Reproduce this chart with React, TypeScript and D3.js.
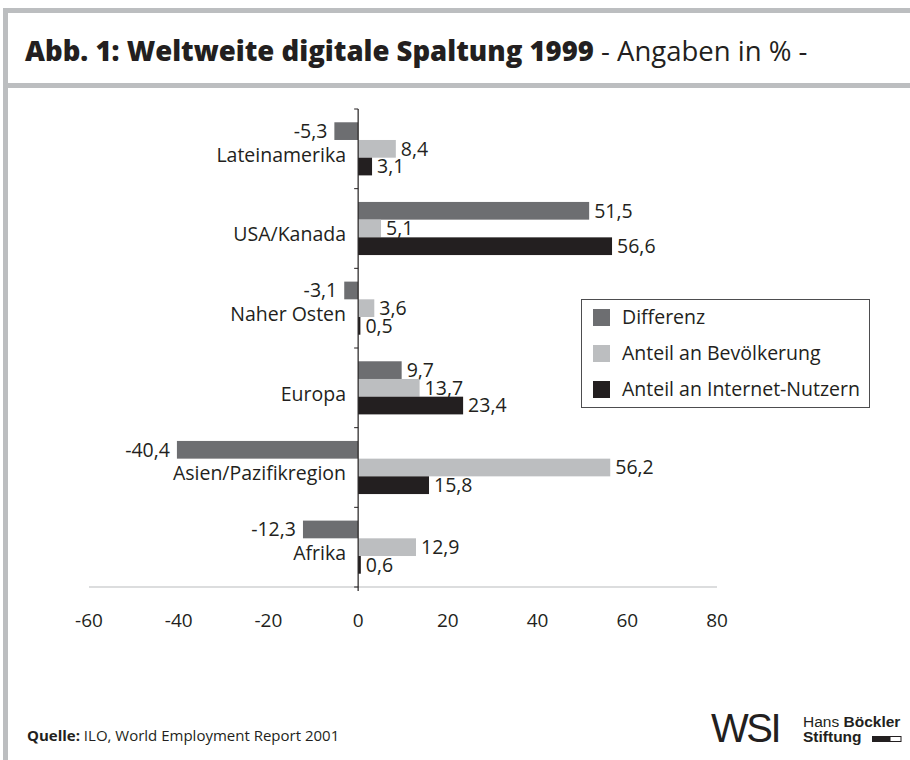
import React from 'react';
import * as d3 from 'd3';

const categories = ['Lateinamerika', 'USA/Kanada', 'Naher Osten', 'Europa', 'Asien/Pazifikregion', 'Afrika'];
const seriesNames = ['Differenz', 'Anteil an Bevölkerung', 'Anteil an Internet-Nutzern'];
const differenz = [-5.3, 51.5, -3.1, 9.7, -40.4, -12.3];
const bevoelkerung = [8.4, 5.1, 3.6, 13.7, 56.2, 12.9];
const internet = [3.1, 56.6, 0.5, 23.4, 15.8, 0.6];
const xTicks = [-60, -40, -20, 0, 20, 40, 60, 80];

const colors = ['#6d6e71', '#bcbec0', '#231f20'];
const gray = '#bcbec0';
const ink = '#231f20';
const font = "'Open Sans', sans-serif";
const logoFont = "'Liberation Sans', Arial, sans-serif";

// German decimal comma, plain hyphen for negatives
const fmt = (v: number) => v.toFixed(1).replace('.', ',');

const App: React.FC = () => {
  const width = 910;
  const height = 760;

  const x = d3.scaleLinear().domain([-60, 80]).range([89, 717]);
  const y = d3.scaleBand<string>().domain(categories).range([109, 587]).padding(0);
  const ySub = d3.scaleBand<string>().domain(seriesNames)
    .range([0, y.bandwidth()]).paddingInner(0).paddingOuter(0.75);

  const series = [differenz, bevoelkerung, internet];

  return (
    <div style={{ position: 'absolute', left: 0, top: 0 }}>
      <svg width={width} height={height} style={{ display: 'block', background: '#fff' }}>
        {/* frame */}
        <rect x={3} y={8} width={width - 3} height={5} fill={gray} />
        <rect x={3} y={8} width={5} height={height - 8} fill={gray} />
        <rect x={3} y={83} width={width - 3} height={5} fill={gray} />

        {/* title */}
        <text x={25} y={61} fontFamily={font} fontSize={27.5} fill={ink}>
          <tspan fontWeight={800}>Abb. 1: Weltweite digitale Spaltung 1999</tspan>
          <tspan fontWeight={400}> - Angaben in % -</tspan>
        </text>

        {/* bars */}
        {categories.map((c, i) => (
          <g key={c} transform={`translate(0,${y(c)})`}>
            {series.map((vals, s) => {
              const v = vals[i];
              const x0 = x(Math.min(0, v));
              const x1 = x(Math.max(0, v));
              const by = ySub(seriesNames[s])!;
              const bh = ySub.bandwidth();
              return (
                <g key={s}>
                  <rect x={x0} y={by} width={x1 - x0} height={bh} fill={colors[s]} />
                  <text
                    x={v < 0 ? x0 - 7 : x1 + 5}
                    y={by + bh / 2}
                    dy="0.35em"
                    textAnchor={v < 0 ? 'end' : 'start'}
                    fontFamily={font}
                    fontSize={19.5}
                    fill={ink}
                  >
                    {fmt(v)}
                  </text>
                </g>
              );
            })}
            <text
              x={346}
              y={y.bandwidth() / 2 + 6}
              dy="0.35em"
              textAnchor="end"
              fontFamily={font}
              fontSize={19.5}
              fill={ink}
            >
              {c}
            </text>
          </g>
        ))}

        {/* axes */}
        <line x1={x(-60)} x2={x(80)} y1={587} y2={587} stroke="#a7a9ac" strokeWidth={0.8} />
        {xTicks.map((t) => (
          <text key={t} x={x(t)} y={620} dy="0.35em" textAnchor="middle" fontFamily={font} fontSize={19} fill={ink}>
            {t}
          </text>
        ))}
        <line x1={x(0)} x2={x(0)} y1={109} y2={591} stroke={ink} strokeWidth={1.2} />
        {[...categories.map((c) => y(c)!), 587].map((ty, i) => (
          <line key={i} x1={x(0) - 4} x2={x(0)} y1={ty} y2={ty} stroke={ink} strokeWidth={1} />
        ))}

        {/* legend */}
        <rect x={581.5} y={299.5} width={288} height={108} fill="#fff" stroke="#4d4d4f" strokeWidth={1} />
        {seriesNames.map((n, i) => (
          <g key={n} transform={`translate(593,${309 + i * 36})`}>
            <rect width={17} height={17} fill={colors[i]} />
            <text x={29} y={8.5} dy="0.35em" fontFamily={font} fontSize={19.5} fill={ink}>{n}</text>
          </g>
        ))}

        {/* footer */}
        <text x={27} y={741} fontFamily={font} fontSize={15} fill={ink}>
          <tspan fontWeight={700}>Quelle:</tspan>
          <tspan> ILO, World Employment Report 2001</tspan>
        </text>
        <text x={711} y={742} fontFamily={logoFont} fontSize={40} fill={ink} letterSpacing={-2.5}>
          WSI
        </text>
        <text x={803} y={727} fontFamily={logoFont} fontSize={15.5} fill={ink}>
          <tspan>Hans </tspan>
          <tspan fontWeight={700}>Böckler</tspan>
        </text>
        <text x={803} y={742} fontFamily={logoFont} fontSize={15.5} fontWeight={700} fill={ink}>
          Stiftung
        </text>
        <rect x={872} y={736} width={18} height={6} fill={ink} />
        <rect x={890} y={736.5} width={11} height={5} fill="#fff" stroke={ink} strokeWidth={1} />
      </svg>
    </div>
  );
};

export default App;
